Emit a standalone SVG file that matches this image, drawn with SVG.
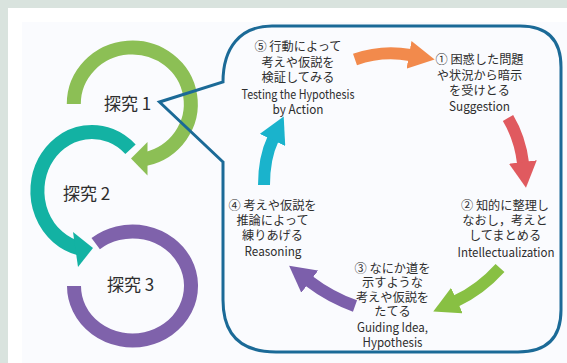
<svg xmlns="http://www.w3.org/2000/svg" width="567" height="363" viewBox="0 0 567 363">
  <style>
    .ring { fill: none; stroke-width: 14; stroke-linecap: butt; }
    .lbl { font-family: "Noto Sans CJK JP", "Noto Sans", sans-serif; font-size: 17px; fill: #2e2e2e; }
    .t { font-family: "Noto Sans CJK JP", "Noto Sans", sans-serif; font-size: 12.2px; fill: #2e2e2e; text-anchor: middle; }
    .e { font-family: "Noto Sans CJK JP", "Noto Sans", sans-serif; font-size: 12.5px; fill: #2e2e2e; text-anchor: middle; }
    .arr { fill: none; stroke-width: 12; stroke-linecap: butt; }
    .callout { fill: none; stroke: #1b6a97; stroke-width: 3; stroke-linejoin: miter; }
  </style>
  <defs>
    <marker id="mOrange" viewBox="0 0 26 28" refX="1" refY="14" markerWidth="26" markerHeight="28" markerUnits="userSpaceOnUse" orient="auto"><path d="M0,0 L26,14 L0,28 z" fill="#f28a4c"/></marker>
    <marker id="mRed" viewBox="0 0 26 28" refX="1" refY="14" markerWidth="26" markerHeight="28" markerUnits="userSpaceOnUse" orient="auto"><path d="M0,0 L26,14 L0,28 z" fill="#e05a5f"/></marker>
    <marker id="mGreen" viewBox="0 0 26 28" refX="1" refY="14" markerWidth="26" markerHeight="28" markerUnits="userSpaceOnUse" orient="auto"><path d="M0,0 L26,14 L0,28 z" fill="#88c043"/></marker>
    <marker id="mPurple" viewBox="0 0 26 28" refX="1" refY="14" markerWidth="26" markerHeight="28" markerUnits="userSpaceOnUse" orient="auto"><path d="M0,0 L26,14 L0,28 z" fill="#7c5fab"/></marker>
    <marker id="mCyan" viewBox="0 0 26 28" refX="1" refY="14" markerWidth="26" markerHeight="28" markerUnits="userSpaceOnUse" orient="auto"><path d="M0,0 L26,14 L0,28 z" fill="#1ab3cc"/></marker>
  </defs>

  <!-- background -->
  <rect x="0" y="0" width="567" height="363" fill="#d9e3de"/>
  <rect x="8" y="8" width="559" height="355" fill="#ffffff"/>
  <rect x="22" y="22" width="545" height="341" fill="#fafbfe"/>

  <!-- inquiry rings -->
  <g id="inquiry1">
    <path class="ring" stroke="#8cbf55" d="M73.8,104 A58.5,56.5 0 1 1 145.5,159"/>
    <polygon fill="#8cbf55" points="147.5,142 147.5,175.5 131,158.5"/>
    <text class="lbl" x="104" y="109.5">探究 1</text>
  </g>
  <g id="inquiry2">
    <path class="ring" stroke="#13b2a3" d="M130.5,149.3 A54.5,59 0 1 0 78.8,248.2"/>
    <polygon fill="#13b2a3" points="73,232 78,267 93,248"/>
    <text class="lbl" x="63" y="199.5">探究 2</text>
  </g>
  <g id="inquiry3">
    <path class="ring" stroke="#7f62ab" d="M95.7,243.6 A58.5,54.5 0 1 1 74,286"/>
    <text class="lbl" x="107" y="291">探究 3</text>
  </g>

  <!-- callout -->
  <g id="callout">
    <path class="callout" d="M223,162 L159.5,102 L223,82 C223,48 240,26 272,26 L520,26 Q561,26 561,67 L561,310 Q561,352 518,352 L276,352 Q223,352 223,300 Z"/>
  </g>

  <!-- step texts -->
  <g id="step5">
    <text class="t" x="298" y="51">⑤ 行動によって</text>
    <text class="t" x="298" y="66.5">考えや仮説を</text>
    <text class="t" x="298" y="82">検証してみる</text>
    <text class="e" x="298" y="98.5" textLength="113" lengthAdjust="spacingAndGlyphs">Testing the Hypothesis</text>
    <text class="e" x="298" y="114" textLength="51" lengthAdjust="spacingAndGlyphs">by Action</text>
  </g>
  <g id="step1">
    <text class="t" x="479.5" y="64">① 困惑した問題</text>
    <text class="t" x="479.5" y="79.5">や状況から暗示</text>
    <text class="t" x="479.5" y="95">を受けとる</text>
    <text class="e" x="479.5" y="110.5" textLength="61" lengthAdjust="spacingAndGlyphs">Suggestion</text>
  </g>
  <g id="step2">
    <text class="t" x="505" y="209.5">② 知的に整理し</text>
    <text class="t" x="505" y="224.5">なおし，考えと</text>
    <text class="t" x="505" y="239.5">してまとめる</text>
    <text class="e" x="506" y="257" textLength="97" lengthAdjust="spacingAndGlyphs">Intellectualization</text>
  </g>
  <g id="step3">
    <text class="t" x="392.5" y="272.5">③ なにか道を</text>
    <text class="t" x="392.5" y="287">示すような</text>
    <text class="t" x="392.5" y="302">考えや仮説を</text>
    <text class="t" x="392.5" y="316">たてる</text>
    <text class="e" x="392.5" y="332" textLength="71" lengthAdjust="spacingAndGlyphs">Guiding Idea,</text>
    <text class="e" x="392.5" y="347" textLength="60" lengthAdjust="spacingAndGlyphs">Hypothesis</text>
  </g>
  <g id="step4">
    <text class="t" x="272.5" y="209.5">④ 考えや仮説を</text>
    <text class="t" x="272.5" y="224.5">推論によって</text>
    <text class="t" x="272.5" y="239.5">練りあげる</text>
    <text class="e" x="273" y="256" textLength="57" lengthAdjust="spacingAndGlyphs">Reasoning</text>
  </g>

  <!-- connectors -->
  <g id="connectors">
    <path class="arr" stroke="#f28a4c" marker-end="url(#mOrange)" d="M355,59.5 Q382,50 410,55"/>
    <path class="arr" stroke="#e05a5f" marker-end="url(#mRed)" d="M508,118 Q520,138 523,163"/>
    <path class="arr" stroke="#88c043" marker-end="url(#mGreen)" d="M500,268 Q480,290 456,301"/>
    <path class="arr" stroke="#7c5fab" marker-end="url(#mPurple)" d="M355,306 Q330,297 309,281"/>
    <path class="arr" stroke="#1ab3cc" marker-end="url(#mCyan)" d="M264,185 Q264,158 273,139"/>
  </g>
</svg>
